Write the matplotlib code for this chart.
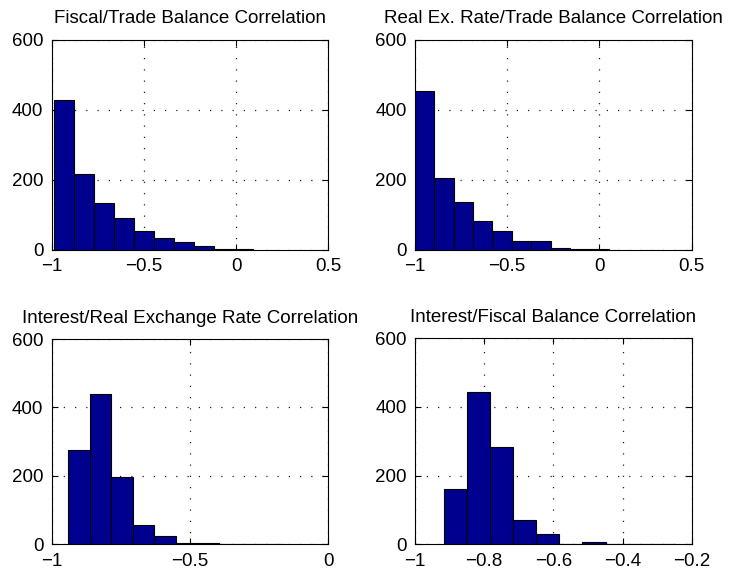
import matplotlib.pyplot as plt
import numpy as np

plt.rcParams['font.family'] = ['Liberation Sans', 'DejaVu Sans']

titles = [
    "Fiscal/Trade Balance Correlation",
    "Real Ex. Rate/Trade Balance Correlation",
    "Interest/Real Exchange Rate Correlation",
    "Interest/Fiscal Balance Correlation",
]

# histogram counts (10 bins each) and bin range
counts_fiscal_trade = [429, 216, 134, 92, 54, 34, 22, 12, 4, 3]
range_fiscal_trade = (-0.986, 0.094)

counts_rer_trade = [455, 205, 137, 83, 55, 26, 25, 7, 4, 3]
range_rer_trade = (-1.0, 0.05)

counts_int_rer = [275, 440, 198, 55, 24, 3, 3, 1, 0, 1]
range_int_rer = (-0.940, -0.164)

counts_int_fiscal = [162, 445, 283, 71, 31, 0, 6, 0, 0, 2]
range_int_fiscal = (-0.916, -0.249)

xlims = [(-1, 0.5), (-1, 0.5), (-1, 0), (-1, -0.2)]
xticks = [[-1, -0.5, 0, 0.5], [-1, -0.5, 0, 0.5], [-1, -0.5, 0],
          [-1, -0.8, -0.6, -0.4, -0.2]]
yticks = [0, 200, 400, 600]

all_counts = [counts_fiscal_trade, counts_rer_trade, counts_int_rer, counts_int_fiscal]
all_ranges = [range_fiscal_trade, range_rer_trade, range_int_rer, range_int_fiscal]

# axes rectangles in pixels (left, top, right, bottom)
W, H = 741, 576
boxes = [
    (51.7, 40, 328.3, 250),
    (415, 40, 691.7, 250),
    (51.7, 339, 328.3, 544.3),
    (415, 338.3, 691.7, 544.3),
]
title_pads = [12, 12, 11.5, 11.5]

fig = plt.figure(figsize=(7.41, 5.76), dpi=100)

for i in range(4):
    l, t, r, b = boxes[i]
    ax = fig.add_axes([l / W, 1 - b / H, (r - l) / W, (b - t) / H])
    lo, hi = all_ranges[i]
    edges = np.linspace(lo, hi, len(all_counts[i]) + 1)
    ax.bar(edges[:-1], all_counts[i], width=np.diff(edges), align='edge',
           color='#00008f', edgecolor='black', linewidth=0.8, zorder=2)
    ax.set_xlim(*xlims[i])
    ax.set_ylim(0, 600)
    ax.set_xticks(xticks[i])
    ax.set_yticks(yticks)
    ax.set_xticklabels([('%g' % v).replace('-', '\u2212') for v in xticks[i]])
    ax.grid(True, linestyle=(0, (1, 8)), color='#222222', linewidth=0.9, zorder=1)
    ax.tick_params(direction='in', top=True, right=True, length=4,
                   labelsize=13.5, width=0.8)
    ax.tick_params(axis='x', pad=6)
    ax.tick_params(axis='y', pad=6)
    for s in ax.spines.values():
        s.set_linewidth(0.8)
    ax.set_title(titles[i], fontsize=13.5, pad=title_pads[i])

fig.savefig('out.png', dpi=100)
